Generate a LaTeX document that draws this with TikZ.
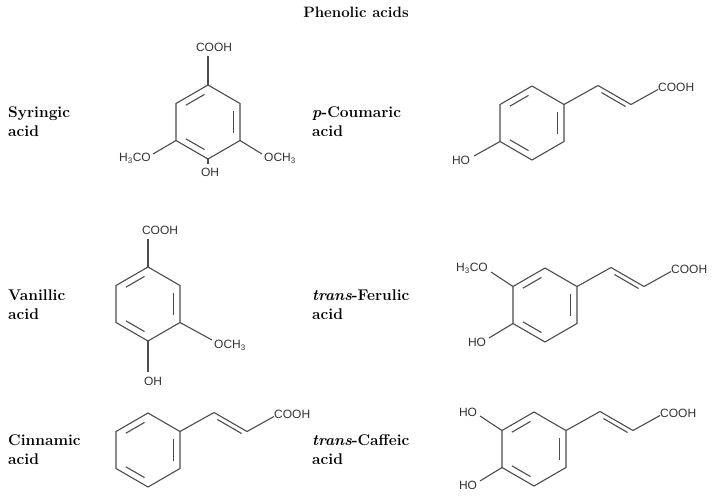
\documentclass[tikz,border=0pt]{standalone}
\usepackage{fontspec}
\newfontfamily\chemf{Liberation Sans}
\usetikzlibrary{calc}
\newcommand\benz[2]{%
\begin{scope}[shift={(#1,#2)}]
\coordinate (c) at (0,0);
\coordinate (v1) at (0,-37); \coordinate (v2) at (32,-18.5); \coordinate (v3) at (32,18.5);
\coordinate (v4) at (0,37); \coordinate (v5) at (-32,18.5); \coordinate (v6) at (-32,-18.5);
\draw[bond] (v1)--(v2)--(v3)--(v4)--(v5)--(v6)--cycle;
\draw[bond,shorten >=4pt,shorten <=4pt] ($(c)!0.8!(v2)$)--($(c)!0.8!(v3)$);
\draw[bond,shorten >=4pt,shorten <=4pt] ($(c)!0.8!(v4)$)--($(c)!0.8!(v5)$);
\draw[bond,shorten >=4pt,shorten <=4pt] ($(c)!0.8!(v6)$)--($(c)!0.8!(v1)$);
\end{scope}}
\newcommand\chain[3]{%
\coordinate (#3a) at ($(#1,#2)+(32,-18.5)$);
\coordinate (#3b) at ($(#3a)+(34,-19)$);
\coordinate (#3c) at ($(#3b)+(33,19)$);
\coordinate (#3d) at ($(#3c)+(27,-15)$);
\draw[bond] (#3a)--(#3b)--(#3c)--(#3d);
\draw[bond,shorten >=4pt,shorten <=4pt] ($(#3b)+(0,5)$)--($(#3c)+(-2,4)$);
\node[chem,anchor=west] (#3cooh) at ($(#3d)+(-1,-2)$) {COOH};}
\begin{document}
\begin{tikzpicture}[x=1pt,y=-1pt,
  bond/.style={draw=black!70,line width=1.1pt},
  chem/.style={font=\chemf\fontsize{12}{13}\selectfont,text=black!80,inner sep=1pt},
  lab/.style={font=\fontsize{15.5}{19}\selectfont\bfseries,anchor=west,align=left,inner sep=0pt}]
\useasboundingbox[fill=white] (0,0) rectangle (713,501);
\node[font=\fontsize{15}{18}\selectfont\bfseries] (title) at (356,12) {Phenolic acids};
\node[lab] (l1) at (8,122) {Syringic\\acid};
\node[lab] (l2) at (312,122) {\textit{p}-Coumaric\\acid};
\node[lab] (l3) at (8,305) {Vanillic\\acid};
\node[lab] (l4) at (312,305) {\textit{trans}-Ferulic\\acid};
\node[lab] (l5) at (8,450) {Cinnamic\\acid};
\node[lab] (l6) at (312,450) {\textit{trans}-Caffeic\\acid};
% Syringic
\benz{208}{122}
\node[chem] (scooh) at (214,47) {COOH};
\draw[bond] (208,85)--(208,56);
\node[chem] (soh) at (210,172) {OH};
\draw[bond] (208,159)--(208,164);
\node[chem] (sl) at (135,158) {H\textsubscript{3}CO};
\draw[bond] (176,140.5)--(153,154);
\node[chem] (sr) at (280,158) {OCH\textsubscript{3}};
\draw[bond] (240,140.5)--(262,154);
% p-Coumaric
\benz{532}{123}
\chain{532}{123}{pc}
\node[chem] (pcoh) at (461,160) {HO};
\draw[bond] (500,141.5)--(474,156);
% Vanillic
\benz{148}{304}
\node[chem] (vcooh) at (160,230) {COOH};
\draw[bond] (148,267)--(148,239);
\node[chem] (voh) at (153,381) {OH};
\draw[bond] (148,341)--(148,372);
\node[chem] (vr) at (230,345) {OCH\textsubscript{3}};
\draw[bond] (180,322.5)--(212,340);
% Cinnamic
\benz{148}{450}
\chain{148}{450}{ci}
% Ferulic
\benz{545}{305}
\chain{545}{305}{fe}
\node[chem] (fel) at (472,268) {H\textsubscript{3}CO};
\draw[bond] (513,286.5)--(491,272);
\node[chem] (feoh) at (477,342) {HO};
\draw[bond] (513,323.5)--(489,338);
% Caffeic
\benz{534}{449}
\chain{534}{449}{ca}
\node[chem] (caoh1) at (468,412) {HO};
\draw[bond] (502,430.5)--(480,416);
\node[chem] (caoh2) at (468,485) {HO};
\draw[bond] (502,467.5)--(480,481);
\end{tikzpicture}
\end{document}
